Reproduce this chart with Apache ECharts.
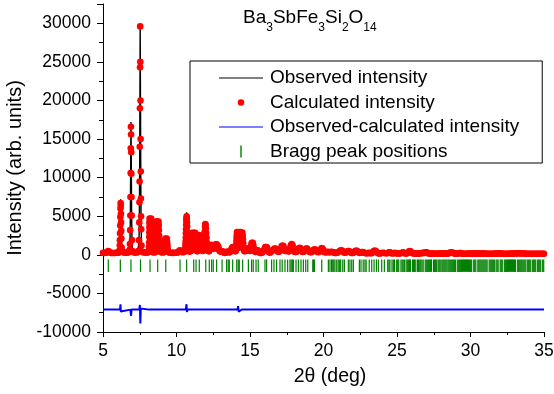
<!DOCTYPE html>
<html><head><meta charset="utf-8">
<script src="https://cdn.jsdelivr.net/npm/echarts@6/dist/echarts.min.js"></script>
<style>html,body{margin:0;padding:0;background:#fff}#c{width:554px;height:394px}</style>
</head><body><div id="c"></div>
<script>
// ---- data ----
const twoTheta = [
5.00,5.10,5.20,5.28,5.33,5.36,5.40,5.45,5.55,5.65,5.75,5.85,5.95,6.05,
6.10,6.12,6.14,6.15,6.16,6.17,6.18,6.19,6.20,6.21,6.22,6.23,6.24,6.25,6.27,6.30,
6.40,6.50,6.60,6.70,
6.78,6.81,6.83,6.85,6.86,6.87,6.88,6.89,6.90,6.91,6.92,6.93,6.94,6.95,6.97,7.00,
7.10,7.20,7.30,7.38,
7.42,7.45,7.47,7.48,7.49,7.50,7.51,7.52,7.53,7.54,7.55,7.56,7.57,7.58,7.59,7.60,7.62,7.66,
7.75,7.85,7.95,8.03,
8.08,8.11,8.12,8.13,8.14,8.15,8.155,8.16,8.165,8.17,8.175,8.18,8.19,8.20,8.21,8.22,8.23,8.24,8.25,8.26,8.27,8.28,8.29,8.30,8.31,8.32,8.33,8.34,8.36,8.40,8.48,
8.55,8.58,8.59,8.60,8.61,8.62,8.63,8.64,8.65,8.66,8.67,8.68,8.69,8.70,8.71,8.72,8.73,8.74,8.75,8.76,8.78,8.79,8.80,8.81,8.82,8.83,8.84,8.86,8.92,9.02,9.10,
9.17,9.19,9.20,9.21,9.22,9.24,9.26,9.28,9.30,9.32,9.34,9.36,9.38,9.39,9.41,9.45,9.50,9.60,9.70,9.80,9.90,10.00,10.08,
10.14,10.19,10.24,10.29,10.34,10.42,10.50,
10.56,10.60,10.61,10.62,10.63,10.64,10.65,10.66,10.67,10.68,10.69,10.70,10.71,10.72,10.73,10.74,10.75,10.76,10.78,10.80,10.85,10.90,
10.97,11.01,11.02,11.03,11.04,11.05,11.07,11.09,11.11,11.13,11.15,11.17,11.19,11.21,11.23,11.25,11.27,11.29,11.31,11.32,11.34,11.37,11.41,
11.44,11.45,11.46,11.47,11.49,11.51,11.53,11.55,11.57,11.59,11.61,11.63,11.65,11.67,11.69,11.70,11.72,11.74,11.78,
11.83,11.85,11.86,11.88,11.90,11.92,11.94,11.96,11.98,12.00,12.02,12.04,12.06,12.08,12.11,12.16,
12.22,12.25,12.28,12.31,12.34,12.37,12.40,12.43,12.46,12.49,12.52,12.55,12.58,12.61,12.64,12.67,12.70,12.73,12.76,12.79,12.82,12.85,12.88,12.92,12.97,
13.03,13.10,13.16,13.22,13.28,13.34,13.40,13.46,13.52,13.58,13.64,13.70,13.76,13.82,13.88,13.94,14.00,
14.03,14.05,14.06,14.07,14.08,14.09,14.10,14.12,14.14,14.16,14.18,14.20,14.22,14.24,14.26,14.28,14.30,14.32,14.34,14.36,14.38,14.40,14.42,14.44,14.46,14.48,14.50,14.52,14.54,14.56,14.58,14.62,
14.70,14.76,14.82,14.88,14.94,15.00,15.04,15.07,15.10,15.13,15.16,15.19,15.22,15.25,15.28,15.31,15.37,15.43,15.49,15.55,15.61,
15.68,15.76,15.84,15.92,15.98,16.04,16.10,16.16,16.22,16.28,16.35,16.42,16.50,
16.58,16.66,16.74,16.82,16.90,16.97,17.04,17.10,17.16,17.22,17.28,17.34,17.40,
17.47,17.54,17.60,17.66,17.72,17.78,17.84,17.90,17.96,18.02,18.10,
18.18,18.26,18.32,18.38,18.44,18.50,18.58,18.66,18.74,18.82,18.88,18.94,19.02,
19.10,19.18,19.26,19.34,19.40,19.46,19.54,19.62,19.70,19.78,19.86,19.92,19.98,20.06,
20.14,20.22,20.30,20.38,20.46,20.54,20.62,20.70,20.78,20.86,20.94,21.02,
21.10,21.18,21.26,21.34,21.42,21.50,21.58,21.66,21.74,21.82,21.90,21.98,
22.06,22.14,22.22,22.30,22.38,22.46,22.54,22.62,22.70,22.78,22.86,22.94,
23.02,23.10,23.18,23.26,23.34,23.42,23.50,23.58,23.66,23.74,23.82,23.90,
23.98,24.06,24.14,24.22,24.30,24.38,24.46,24.54,24.62,24.70,24.78,24.86,
24.94,25.02,25.10,25.18,25.26,25.34,25.42,25.50,25.58,25.66,25.74,25.82,
25.90,25.98,26.06,26.14,26.22,26.30,26.38,26.46,26.54,26.62,26.70,26.78,
26.86,26.94,27.02,27.10,27.18,27.26,27.34,27.42,27.50,27.58,27.66,27.74,
27.82,27.90,27.98,28.06,28.14,28.22,28.30,28.38,28.46,28.54,28.62,28.70,
28.78,28.86,28.94,29.02,29.10,29.18,29.26,29.34,29.42,29.50,29.58,29.66,
29.74,29.82,29.90,29.98,30.06,30.14,30.22,30.30,30.38,30.46,30.54,30.62,
30.70,30.78,30.86,30.94,31.02,31.10,31.18,31.26,31.34,31.42,31.50,31.58,
31.66,31.74,31.82,31.90,31.98,32.06,32.14,32.22,32.30,32.38,32.46,32.54,
32.62,32.70,32.78,32.86,32.94,33.02,33.10,33.18,33.26,33.34,33.42,33.50,
33.58,33.66,33.74,33.82,33.90,33.98,34.06,34.14,34.22,34.30,34.38,34.46,
34.54,34.62,34.70,34.78,34.86,34.94,35.00
];
const observed = [
250,250,260,330,420,480,400,300,250,240,240,250,260,280,
320,600,1300,2000,2900,3900,5000,6200,7200,6500,5400,4300,3200,2200,1000,450,
300,280,280,300,
350,700,1500,3300,5200,7600,10700,13900,17200,15900,13200,10300,7400,5000,2000,550,
300,290,300,350,
550,2000,4300,6900,9600,14300,19400,24800,30000,24200,19800,15000,10800,7300,5000,3300,1200,420,
300,290,300,320,
320,400,600,1000,1600,2300,2900,3500,4100,4700,4300,3700,3000,2400,1800,1400,1900,2500,3100,3700,4300,4700,4200,3500,2800,2100,1400,900,500,330,300,
330,450,800,1300,1900,2600,3300,4000,4350,3800,3200,2600,2000,1500,1100,1500,2100,2700,3300,3900,4300,3800,3200,2500,1900,1300,900,550,350,300,320,
350,500,900,1400,1800,2100,1600,1100,1500,1800,2100,1700,1300,900,550,350,300,260,250,250,260,270,300,
380,520,600,500,380,330,350,
420,900,1300,1700,2200,2800,3300,3900,4400,4800,5500,4900,4200,3700,3000,2400,1800,1300,800,600,450,420,
480,550,900,1300,1800,2300,2850,2300,1700,1100,1700,2300,2850,2200,1500,2200,2850,2300,1800,1300,900,550,450,
500,800,1200,1700,2200,2550,2000,1400,1000,1500,2100,2500,2000,2450,1900,1400,1000,650,500,
550,900,1300,1800,2400,3000,3600,4350,3900,3400,2800,2200,1600,1100,700,500,
450,700,1000,1250,900,1300,850,1250,800,1150,800,1100,850,1250,900,1350,950,1350,900,1250,800,1050,700,550,420,
420,450,420,300,250,280,380,400,380,300,350,600,850,1000,950,700,450,
500,700,1000,1400,1800,2200,2600,2950,2200,1500,900,1600,2300,2950,2300,1600,1000,1700,2400,2950,2200,1500,1000,1700,2400,2900,2500,2000,1500,1000,650,450,
500,700,800,800,650,500,750,1100,1400,1550,1000,1550,1300,900,650,500,380,450,600,550,350,
250,250,300,500,750,1000,1000,950,600,350,280,350,500,
650,800,800,600,400,400,500,850,1150,1200,1100,750,500,
500,550,450,450,850,1250,1400,1250,750,400,350,
400,600,850,900,850,600,380,400,600,800,800,650,420,
330,330,420,650,700,650,450,330,380,600,850,850,650,380,
300,350,380,320,350,380,350,320,250,230,280,350,
500,580,550,400,280,280,400,500,500,350,230,230,
300,450,550,500,320,230,260,350,350,260,200,200,
220,260,220,200,300,500,550,450,260,180,180,200,
230,260,230,200,200,230,320,320,200,180,200,260,
200,170,170,180,200,260,320,220,170,180,230,450,
500,320,200,170,160,150,150,160,170,200,220,250,
250,320,320,220,170,150,150,140,150,150,140,140,
150,170,170,150,150,170,170,150,170,220,280,320,
280,200,150,150,150,170,220,220,170,140,140,140,
140,150,170,170,150,150,170,170,150,150,170,170,
170,150,150,170,150,140,130,130,130,130,130,140,
150,150,160,180,200,170,150,130,130,130,130,130,
140,150,150,160,170,170,170,180,200,200,180,170,
170,170,150,140,130,130,130,130,130,130,130,130,
130,130,130,130,130,130,130
];
const calculated = [
250,250,260,330,420,480,400,300,250,240,240,250,260,280,
320,560,1250,1900,2800,3800,4900,6000,6700,6400,5300,4200,3100,2100,950,420,
300,280,280,300,
350,650,1400,3200,5100,7500,10600,13800,16600,15600,13300,10500,7500,5100,1900,500,
300,290,300,350,
520,1900,4200,6800,9500,14000,19000,24300,29600,25000,20000,15000,10800,7300,5000,3300,1200,420,
300,290,300,320,
320,400,600,1000,1600,2300,2900,3500,4100,4700,4300,3700,3000,2400,1800,1400,1900,2500,3100,3700,4300,4700,4200,3500,2800,2100,1400,900,500,330,300,
330,450,800,1300,1900,2600,3300,4000,4350,3800,3200,2600,2000,1500,1100,1500,2100,2700,3300,3900,4300,3800,3200,2500,1900,1300,900,550,350,300,320,
350,500,900,1400,1800,2100,1600,1100,1500,1800,2100,1700,1300,900,550,350,300,260,250,250,260,270,300,
380,520,600,500,380,330,350,
420,900,1300,1700,2200,2800,3300,3900,4400,4700,5000,4700,4200,3700,3000,2400,1800,1300,800,600,450,420,
480,550,900,1300,1800,2300,2850,2300,1700,1100,1700,2300,2850,2200,1500,2200,2850,2300,1800,1300,900,550,450,
500,800,1200,1700,2200,2550,2000,1400,1000,1500,2100,2500,2000,2450,1900,1400,1000,650,500,
550,900,1300,1800,2400,3000,3600,4000,3900,3400,2800,2200,1600,1100,700,500,
450,700,1000,1250,900,1300,850,1250,800,1150,800,1100,850,1250,900,1350,950,1350,900,1250,800,1050,700,550,420,
420,450,420,300,250,280,380,400,380,300,350,600,850,1000,950,700,450,
500,700,1000,1400,1800,2200,2600,2950,2200,1500,900,1600,2300,2950,2300,1600,1000,1700,2400,2950,2200,1500,1000,1700,2400,2900,2500,2000,1500,1000,650,450,
500,700,800,800,650,500,750,1100,1400,1550,1000,1550,1300,900,650,500,380,450,600,550,350,
250,250,300,500,750,1000,1000,950,600,350,280,350,500,
650,800,800,600,400,400,500,850,1150,1200,1100,750,500,
500,550,450,450,850,1250,1400,1250,750,400,350,
400,600,850,900,850,600,380,400,600,800,800,650,420,
330,330,420,650,700,650,450,330,380,600,850,850,650,380,
300,350,380,320,350,380,350,320,250,230,280,350,
500,580,550,400,280,280,400,500,500,350,230,230,
300,450,550,500,320,230,260,350,350,260,200,200,
220,260,220,200,300,500,550,450,260,180,180,200,
230,260,230,200,200,230,320,320,200,180,200,260,
200,170,170,180,200,260,320,220,170,180,230,450,
500,320,200,170,160,150,150,160,170,200,220,250,
250,320,320,220,170,150,150,140,150,150,140,140,
150,170,170,150,150,170,170,150,170,220,280,320,
280,200,150,150,150,170,220,220,170,140,140,140,
140,150,170,170,150,150,170,170,150,150,170,170,
170,150,150,170,150,140,130,130,130,130,130,140,
150,150,160,180,200,170,150,130,130,130,130,130,
140,150,150,160,170,170,170,180,200,200,180,170,
170,170,150,140,130,130,130,130,130,130,130,130,
130,130,130,130,130,130,130
];
// difference curve (observed - calculated, plotted with an offset)
const diffTheta = [5.00,
 6.16,6.19,6.21,6.24, 6.86,6.89,6.91,6.94, 7.47,7.51,7.54,7.57,7.60,
 8.14,8.17,8.20, 8.66,8.69,8.72, 9.24,9.27,9.30, 10.64,10.68,10.71,10.75,
 11.10,11.13,11.17,11.21, 11.55,11.58,11.61, 11.92,11.95,11.99,12.03, 12.38,12.41,12.44,
 14.15,14.19,14.23,14.27, 14.44,14.47,14.50, 15.12,15.15,15.18, 16.07,16.10,16.13,
 17.19,17.22,17.25, 17.81,17.84,17.87, 18.87,18.90,18.93, 19.87,19.90,19.93, 21.17,21.20,21.23,
 35.00];
const diffValues = [-7100,
 -7100,-6400,-7350,-7100, -7100,-6950,-7900,-7100, -7100,-6500,-8900,-6950,-7100,
 -7100,-7300,-7100, -7100,-7330,-7100, -7100,-6950,-7100, -7100,-6400,-7400,-7100,
 -7100,-6850,-7300,-7100, -7100,-6900,-7100, -7100,-6900,-7250,-7100, -7100,-6900,-7100,
 -7100,-6650,-7350,-7100, -7100,-6900,-7100, -7100,-6900,-7100, -7100,-6950,-7100,
 -7100,-6950,-7100, -7100,-6900,-7100, -7100,-6980,-7100, -7100,-6980,-7100, -7100,-7020,-7100,
 -7100];
const braggLevel = -1400;
const braggPositions = [
5.36,6.18,6.90,7.55,8.20,8.72,9.27,10.24,10.69,11.17,11.33,11.55,11.99,12.23,12.39,12.50,12.73,13.10,13.41,13.52,13.59,13.82,
14.10,14.20,14.27,14.50,14.89,15.11,15.22,15.41,15.56,16.02,16.13,16.47,16.63,16.81,17.04,17.19,17.38,17.56,17.72,17.80,17.88,17.95,
18.13,18.29,18.47,18.63,18.79,18.93,19.27,19.33,19.38,19.88,20.33,20.44,20.55,20.63,20.70,20.78,20.90,21.00,21.10,21.17,21.31,21.42,
21.69,21.80,21.92,22.03,22.44,22.55,22.70,22.82,22.90,23.11,23.28,23.44,23.60,23.73,23.96,24.14,24.37,24.45,24.52,24.66,24.75,24.83,
24.98,25.05,25.12,25.27,25.35,25.42,25.50,25.62,25.70,25.77,25.85,25.92,26.06,26.13,26.20,26.28,26.40,26.47,26.55,26.62,26.70,26.78,
26.92,26.99,27.06,27.13,27.20,27.28,27.35,27.49,27.56,27.63,27.70,27.80,27.87,27.94,28.05,28.12,28.19,28.26,28.33,28.40,28.48,28.55,
28.62,28.69,28.76,28.83,28.90,28.97,29.10,29.17,29.24,29.31,29.38,29.45,29.52,29.59,29.66,29.73,29.80,29.87,29.94,30.01,30.08,30.22,
30.29,30.36,30.50,30.57,30.64,30.71,30.78,30.85,30.92,30.99,31.06,31.13,31.27,31.34,31.41,31.48,31.55,31.62,31.74,31.81,31.88,32.02,
32.09,32.16,32.30,32.37,32.44,32.51,32.58,32.65,32.72,32.79,32.86,32.93,33.00,33.07,33.21,33.28,33.35,33.42,33.49,33.56,33.63,33.70,
33.77,33.89,33.96,34.03,34.10,34.23,34.30,34.37,34.44,34.57,34.64,34.71,34.78,34.91,34.98
];
const xTicks = {min: 5, max: 35, interval: 5};
const yTicks = {min: -10000, max: 32500, interval: 5000};

if (twoTheta.length !== observed.length || twoTheta.length !== calculated.length) {
  console.error('length mismatch', twoTheta.length, observed.length, calculated.length);
}

const FONT = '"Liberation Sans", Arial, Helvetica, sans-serif';
const obsPts = twoTheta.map((t, i) => [t, observed[i]]);
const calcPts = twoTheta.map((t, i) => [t, calculated[i]]);
const diffPts = diffTheta.map((t, i) => [t, diffValues[i]]);
const braggPts = braggPositions.map(t => [t, braggLevel]);

const ICON_LINE = 'path://M0,0L0,0ZM0,6.4L44,6.4L44,7.6L0,7.6ZM44,14L44,14Z';
const ICON_DOT = 'path://M0,0L0,0ZM18.7,7A3.3,3.3,0,1,0,25.3,7A3.3,3.3,0,1,0,18.7,7ZM44,14L44,14Z';
const ICON_TICK = 'path://M0,0L0,0ZM21.3,1L22.7,1L22.7,13L21.3,13ZM44,14L44,14Z';

const chart = echarts.init(document.getElementById('c'), null, {renderer: 'canvas'});
chart.setOption({
  animation: false,
  backgroundColor: '#ffffff',
  textStyle: {fontFamily: FONT},
  grid: {left: 103, right: 10, top: 4, bottom: 62, containLabel: false, outerBoundsMode: 'none'},
  title: {
    left: 243, top: 8, padding: 0,
    text: '{m|Ba}{s|3}{m|SbFe}{s|3}{m|Si}{s|2}{m|O}{s|14}',
    textStyle: {
      fontFamily: FONT, fontWeight: 'normal', color: '#000', fontSize: 19,
      rich: {
        m: {fontFamily: FONT, fontSize: 19, lineHeight: 26, verticalAlign: 'top', color: '#000'},
        s: {fontFamily: FONT, fontSize: 12, lineHeight: 9, verticalAlign: 'bottom', color: '#000'}
      }
    }
  },
  legend: {
    orient: 'vertical', left: 190, top: 61,
    padding: [7.5, 23, 2, 29],
    borderColor: '#000', borderWidth: 1, borderRadius: 0,
    itemWidth: 44, itemHeight: 14, itemGap: 5.5,
    selectedMode: false,
    itemStyle: {borderWidth: 0, opacity: 1},
    textStyle: {fontFamily: FONT, fontSize: 19, color: '#000', lineHeight: 19, padding: [0, 0, 0, 2]},
    data: [
      {name: 'Observed intensity', icon: ICON_LINE},
      {name: 'Calculated intensity', icon: ICON_DOT},
      {name: 'Observed-calculated intensity', icon: ICON_LINE},
      {name: 'Bragg peak positions', icon: ICON_TICK}
    ]
  },
  xAxis: {
    type: 'value', min: xTicks.min, max: xTicks.max, interval: xTicks.interval,
    axisLine: {show: true, onZero: false, lineStyle: {color: '#000', width: 1}},
    axisTick: {show: true, inside: false, length: 5, lineStyle: {color: '#000', width: 1}},
    minorTick: {show: true, splitNumber: 2, length: 3, lineStyle: {color: '#000', width: 1}},
    splitLine: {show: false},
    axisLabel: {color: '#000', fontSize: 17.5, fontFamily: FONT, margin: 10, formatter: v => String(v)},
    name: '2θ (deg)', nameLocation: 'middle', nameGap: 35,
    nameTextStyle: {color: '#000', fontSize: 19.5, fontFamily: FONT, padding: [0, 0, 0, 13]}
  },
  yAxis: {
    type: 'value', min: yTicks.min, max: yTicks.max, interval: yTicks.interval,
    axisLine: {show: true, lineStyle: {color: '#000', width: 1}},
    axisTick: {show: true, inside: false, length: 6, lineStyle: {color: '#000', width: 1}},
    minorTick: {show: true, splitNumber: 2, length: 4, lineStyle: {color: '#000', width: 1}},
    splitLine: {show: false},
    axisLabel: {color: '#000', fontSize: 17.5, fontFamily: FONT, margin: 12, showMaxLabel: false,
                formatter: v => String(v)},
    name: 'Intensity (arb. units)', nameLocation: 'middle', nameGap: 69,
    nameTextStyle: {color: '#000', fontSize: 20, fontFamily: FONT}
  },
  series: [
    {
      name: 'Bragg peak positions', type: 'scatter', data: braggPts,
      symbol: 'rect', symbolSize: [1.2, 12.5], silent: true, z: 2,
      itemStyle: {color: '#008000', borderWidth: 0, opacity: 1}
    },
    {
      name: 'Observed-calculated intensity', type: 'line', data: diffPts,
      showSymbol: false, symbol: 'none', silent: true, z: 2,
      lineStyle: {color: '#0000ff', width: 2}, itemStyle: {color: '#0000ff'}
    },
    {
      name: 'Observed intensity', type: 'line', data: obsPts,
      showSymbol: false, symbol: 'none', silent: true, z: 3, sampling: null,
      lineStyle: {color: '#000000', width: 1.4}, itemStyle: {color: '#000000'}
    },
    {
      name: 'Calculated intensity', type: 'scatter', data: calcPts,
      symbol: 'circle', symbolSize: 6.6, silent: true, z: 4, large: false,
      itemStyle: {color: '#ff0000', borderWidth: 0, opacity: 1}
    }
  ]
});
</script></body></html>
